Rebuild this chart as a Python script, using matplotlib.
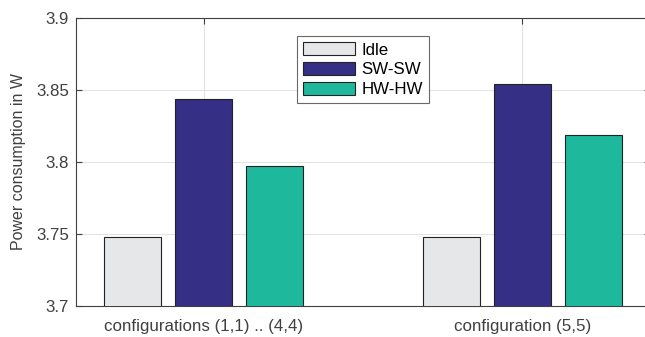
import numpy as np
import matplotlib.pyplot as plt

plt.rcParams['font.family'] = ['Liberation Sans', 'DejaVu Sans']

groups = ["configurations (1,1) .. (4,4)", "configuration (5,5)"]
series = ["Idle", "SW-SW", "HW-HW"]
idle = [3.748, 3.748]
sw_sw = [3.844, 3.854]
hw_hw = [3.797, 3.819]
colors = ["#e6e7e8", "#352f86", "#1eb99c"]

fig = plt.figure(figsize=(6.45, 3.37), dpi=100)
ax = fig.add_axes([76 / 645, 31 / 337, 574 / 645, 288 / 337])

x = np.arange(1, len(groups) + 1)
width = 0.179
step = 0.2226
for i, (name, vals) in enumerate(zip(series, [idle, sw_sw, hw_hw])):
    ax.bar(x + (i - 1) * step, vals, width, color=colors[i], edgecolor="#222222",
           linewidth=0.8, label=name, zorder=3)

ax.set_xlim(0.6, 2.4)
ax.set_ylim(3.7, 3.9)
ax.set_yticks([3.7, 3.75, 3.8, 3.85, 3.9])
ax.set_yticklabels(["3.7", "3.75", "3.8", "3.85", "3.9"])
ax.set_xticks(x)
ax.set_xticklabels(groups)
ax.grid(True, color="#e3e3e3", linewidth=0.8, zorder=0)
ax.tick_params(direction="in", length=4, colors="#404040", labelsize=12.2,
               top=True, right=True)
ax.tick_params(axis="x", pad=9)
ax.tick_params(axis="y", pad=5)
for s in ax.spines.values():
    s.set_color("#404040")
    s.set_linewidth(0.8)
ax.set_ylabel("Power consumption in W", fontsize=11.5, color="#404040", labelpad=7)

leg = ax.legend(loc="upper left", bbox_to_anchor=(297 / 645, 1 - 36 / 337),
                bbox_transform=fig.transFigure, fontsize=12.2, frameon=True,
                fancybox=False, edgecolor="#444444", handlelength=3.1,
                handleheight=0.85, handletextpad=0.35, labelspacing=0.25,
                borderpad=0.35, borderaxespad=0)
leg.get_frame().set_linewidth(0.8)

fig.savefig("out.png", dpi=100)
